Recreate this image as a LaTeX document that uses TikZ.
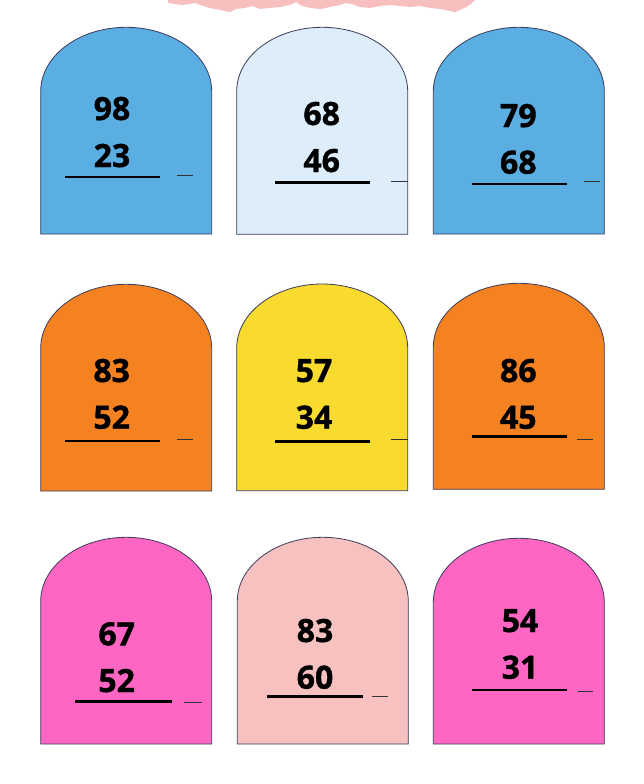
\documentclass[tikz,border=0pt]{standalone}
\usepackage{fontspec}
\setmainfont{Open Sans}
\newfontfamily\numfont{Open Sans}[UprightFont=*-Bold, FakeBold=1.2]
\definecolor{cblue}{HTML}{5AAEE1}
\definecolor{clblue}{HTML}{DDEEFA}
\definecolor{corange}{HTML}{F58220}
\definecolor{cyellow}{HTML}{F9DA2E}
\definecolor{cpink}{HTML}{FF66C4}
\definecolor{clpink}{HTML}{F7C1C0}
\definecolor{cblob}{HTML}{F8BFBF}
\definecolor{cedge}{HTML}{3B3B5C}
\tikzset{
  cardshape/.style={draw=cedge, line width=0.8pt},
  numtext/.style={font=\fontsize{32}{32}\numfont, anchor=base, inner sep=0pt},
  rule/.style={line width=2.8pt, black},
  shortdash/.style={line width=1pt, black!80},
}
% \mycard{left}{top}{bottom}{colour}
\newcommand{\mycard}[4]{%
  \fill[#4] (#1,#3) -- (#1,#2+64) .. controls (#1,#2+28.7) and (#1+38.3,#2) .. (#1+85.5,#2)
    .. controls (#1+132.7,#2) and (#1+171,#2+28.7) .. (#1+171,#2+64) -- (#1+171,#3) -- cycle;
  \draw[cardshape] (#1,#3) -- (#1,#2+64) .. controls (#1,#2+28.7) and (#1+38.3,#2) .. (#1+85.5,#2)
    .. controls (#1+132.7,#2) and (#1+171,#2+28.7) .. (#1+171,#2+64) -- (#1+171,#3) -- cycle;
}
% \sums{name}{x}{y1}{y2}{top}{bottom}{lx1}{lx2}{ly}
\newcommand{\sums}[9]{%
  \node[numtext] (#1a) at (#2,#3+12) {#5};
  \node[numtext] (#1b) at (#2,#4+12) {#6};
  \draw[rule] (#7,#9) -- (#8,#9);
}
\newcommand{\sdash}[3]{\draw[shortdash] (#1,#3) -- (#2,#3);}
\begin{document}
\begin{tikzpicture}[x=1pt,y=-1pt]
\useasboundingbox (0,0) rectangle (644,784);
\fill[white] (0,0) rectangle (644,784);
% pink blob at top
\fill[cblob] (168,0) -- (168,3) -- (175,4) -- (182,5) -- (190,4) -- (196,3) -- (200,5) -- (210,8) -- (220,10) -- (230,12) -- (236,9) -- (245,8) -- (252,6) -- (260,9) -- (270,8) -- (280,7) -- (290,5) -- (296,2) -- (302,6) -- (310,8) -- (320,9) -- (330,7) -- (340,5) -- (345,3) -- (352,4) -- (360,7) -- (370,8) -- (380,6) -- (390,5) -- (400,6) -- (410,7) -- (420,6) -- (430,8) -- (440,9) -- (450,11) -- (455,12) -- (462,9) -- (468,6) -- (472,3) -- (475,0) -- cycle;
% row 1
\mycard{40.7}{27.3}{234}{cblue}
\mycard{236.7}{27.3}{234.3}{clblue}
\mycard{433.3}{27.3}{234}{cblue}
% row 2
\mycard{40.7}{284.3}{491}{corange}
\mycard{236.7}{284}{490.7}{cyellow}
\mycard{433.3}{283.3}{489.3}{corange}
% row 3
\mycard{40.7}{537.3}{744}{cpink}
\mycard{237.3}{537.3}{744}{clpink}
\mycard{433.3}{538.3}{744}{cpink}
% sums
\sums{s11}{112}{108}{155}{98}{23}{65}{160}{177}
\sdash{177}{193}{175}
\sums{s12}{321.7}{113}{160}{68}{46}{275}{370}{182.7}
\sdash{390.7}{408}{181.7}
\sums{s13}{518.3}{115}{161.7}{79}{68}{471.7}{566.7}{184}
\sdash{584}{600}{181.7}
\sums{s21}{111.7}{370}{416.7}{83}{52}{65}{160}{441}
\sdash{176.7}{193.3}{439}
\sums{s22}{314}{370}{416.7}{57}{34}{275}{370}{441.7}
\sdash{390.7}{408}{439.3}
\sums{s23}{518.3}{370}{416.7}{86}{45}{471.7}{566.7}{436.7}
\sdash{577.3}{593.3}{439}
\sums{s31}{116.7}{633.3}{680}{67}{52}{75}{171.7}{701.7}
\sdash{184.3}{201.7}{702.7}
\sums{s32}{315}{630}{676.7}{83}{60}{266.7}{362.7}{696.7}
\sdash{371.7}{388.3}{696.7}
\sums{s33}{520}{620}{666.7}{54}{31}{471.7}{566.7}{690}
\sdash{577.7}{593.3}{691.7}
\end{tikzpicture}
\end{document}
